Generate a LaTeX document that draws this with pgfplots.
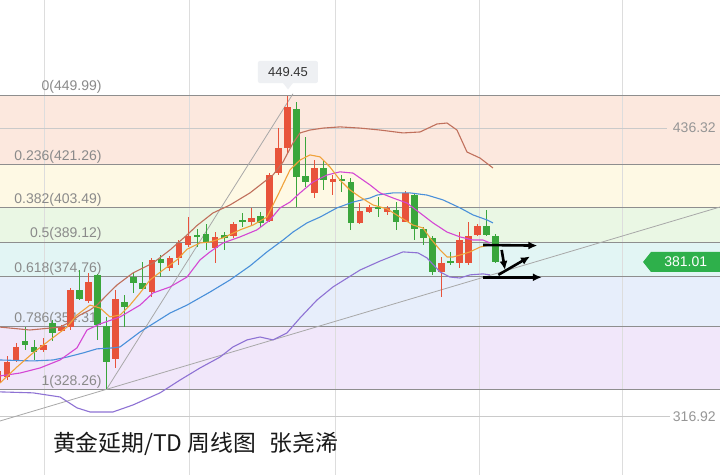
\documentclass[border=0pt]{standalone}
\usepackage{fontspec}
\setmainfont{Liberation Sans}
\newfontfamily\cjk{Noto Sans CJK SC}
\usepackage{pgfplots}
\usepackage{pgfplotstable}
\usetikzlibrary{arrows.meta}
\pgfplotsset{compat=1.18}

\definecolor{bPeach}{HTML}{FCE8DE}
\definecolor{bYellow}{HTML}{FEF9E4}
\definecolor{bGreen}{HTML}{EAF7E4}
\definecolor{bCyan}{HTML}{E2F5F4}
\definecolor{bBlue}{HTML}{E7EEFB}
\definecolor{bLav}{HTML}{F1E7FA}
\definecolor{fibGray}{HTML}{8E8E8E}
\definecolor{labGray}{HTML}{8A8A8A}
\definecolor{gridGray}{HTML}{DDDDDD}
\definecolor{cRed}{HTML}{E8533B}
\definecolor{cGreen}{HTML}{3AA63C}
\definecolor{maBrown}{HTML}{C0705C}
\definecolor{maOrange}{HTML}{F0A23A}
\definecolor{maMag}{HTML}{D447D4}
\definecolor{maBlue}{HTML}{4A90DA}
\definecolor{maPurp}{HTML}{8E72D4}
\definecolor{trendGray}{HTML}{A8A8A8}
\definecolor{tagGreen}{HTML}{2EB04B}
\definecolor{boxGray}{HTML}{EEF0F3}

\pgfplotstableread{
i o h l c
-1 331.0 338.0 329.0 336.0
0 333.5 342.0 332.1 339.7
1 340.4 347.5 339.5 345.9
4 344.5 349.5 343.7 346.6
6 352.5 354.9 352.0 354.0
7 354.0 370.0 352.8 369.3
9 364.9 376.4 364.0 372.8
12 340.7 369.3 337.1 365.5
16 368.6 382.6 366.6 381.7
18 378.3 383.4 377.3 382.6
19 382.7 390.0 379.7 388.9
20 388.0 399.7 387.2 391.7
23 386.6 393.5 380.4 391.4
25 391.7 397.6 391.0 396.6
27 397.6 403.3 396.2 399.2
29 397.9 417.6 397.5 416.9
30 417.9 436.2 416.9 428.0
31 428.0 449.45 425.9 445.1
34 409.3 423.1 407.3 419.7
36 414.1 416.9 408.6 415.2
39 396.9 405.3 396.5 402.1
40 401.7 404.7 401.0 403.5
42 401.7 404.0 400.5 403.3
44 397.6 410.3 397.3 409.6
48 376.9 383.1 366.6 380.6
50 380.4 393.5 378.3 390.0
51 380.4 397.6 379.5 391.7
52 392.1 396.5 391.5 395.8
}\upT

\pgfplotstableread{
i o h l c
2 348.4 354.2 344.5 346.6
3 345.9 348.7 340.4 343.8
5 355.8 356.9 348.4 351.4
8 369.3 377.6 365.2 365.5
10 375.5 376.0 348.7 354.9
11 354.5 358.3 328.26 339.7
13 364.5 367.3 354.2 362.2
14 374.8 376.4 368.1 372.4
15 372.4 381.0 369.3 369.6
17 382.0 383.8 374.8 380.4
21 392.1 394.6 387.2 391.4
22 392.4 396.6 385.9 389.3
24 392.1 393.5 385.9 390.7
26 398.0 401.2 395.5 397.5
28 399.9 401.7 395.5 397.2
32 444.1 447.2 403.8 415.9
33 416.5 432.7 412.1 414.1
35 419.7 423.1 410.7 414.8
37 415.2 416.9 410.0 414.5
38 414.1 415.7 394.2 396.9
41 403.5 407.7 399.4 402.7
43 402.4 405.9 394.2 397.5
45 408.6 409.0 390.0 394.5
46 394.5 395.5 388.0 390.7
47 390.7 391.5 375.5 376.9
49 381.3 385.2 379.7 380.8
53 395.8 402.4 391.5 392.1
54 391.7 392.5 380.5 381.01
}\downT

\newcommand{\numfont}{\fontsize{14bp}{16bp}\selectfont}
\newcommand{\smallnum}{\fontsize{13bp}{15bp}\selectfont}

\begin{document}
\begin{tikzpicture}
\begin{axis}[
  width=720bp, height=475bp, scale only axis,
  xmin=-0.7735, xmax=78.785, ymin=292.83, ymax=489.28,
  hide axis, clip=true,
  candle/.style={only marks, mark options={draw=none, fill=none, opacity=0}, mark size=0pt},
]
% background
\fill[white] (axis cs:-0.7735,292.83) rectangle (axis cs:78.785,489.28);
\fill[bPeach] (axis cs:-0.7735,421.26) rectangle (axis cs:78.785,449.99);
\fill[bYellow] (axis cs:-0.7735,403.49) rectangle (axis cs:78.785,421.26);
\fill[bGreen] (axis cs:-0.7735,389.12) rectangle (axis cs:78.785,403.49);
\fill[bCyan] (axis cs:-0.7735,374.76) rectangle (axis cs:78.785,389.12);
\fill[bBlue] (axis cs:-0.7735,354.31) rectangle (axis cs:78.785,374.76);
\fill[bLav] (axis cs:-0.7735,328.26) rectangle (axis cs:78.785,354.31);
% vertical grid
\draw[gridGray, line width=0.8bp] (axis cs:4.09,292.83) -- (axis cs:4.09,489.28);
\draw[gridGray, line width=0.8bp] (axis cs:20.11,292.83) -- (axis cs:20.11,489.28);
\draw[gridGray, line width=0.8bp] (axis cs:36.24,292.83) -- (axis cs:36.24,489.28);
\draw[gridGray, line width=0.8bp] (axis cs:52.15,292.83) -- (axis cs:52.15,489.28);
\draw[gridGray, line width=0.8bp] (axis cs:67.96,292.83) -- (axis cs:67.96,489.28);
% horizontal grid
\draw[gridGray!80!gray, line width=0.8bp] (axis cs:-0.7735,436.32) -- (axis cs:72.93,436.32);
\draw[gridGray!80!gray, line width=0.8bp] (axis cs:-0.7735,316.92) -- (axis cs:73.26,316.92);
% fib lines
\draw[fibGray, line width=0.9bp] (axis cs:-0.7735,449.99) -- (axis cs:78.785,449.99);
\draw[fibGray, line width=0.9bp] (axis cs:-0.7735,421.26) -- (axis cs:78.785,421.26);
\draw[fibGray, line width=0.9bp] (axis cs:-0.7735,403.49) -- (axis cs:78.785,403.49);
\draw[fibGray, line width=0.9bp] (axis cs:-0.7735,389.12) -- (axis cs:78.785,389.12);
\draw[fibGray, line width=0.9bp] (axis cs:-0.7735,374.76) -- (axis cs:78.785,374.76);
\draw[fibGray, line width=0.9bp] (axis cs:-0.7735,354.31) -- (axis cs:78.785,354.31);
\draw[fibGray, line width=0.9bp] (axis cs:-0.7735,328.26) -- (axis cs:78.785,328.26);
% fib labels
\node[anchor=south east, inner sep=1.2bp, text=labGray, font=\numfont] at (axis cs:10.61,449.99) {0(449.99)};
\node[anchor=south east, inner sep=1.2bp, text=labGray, font=\numfont] at (axis cs:10.61,421.26) {0.236(421.26)};
\node[anchor=south east, inner sep=1.2bp, text=labGray, font=\numfont] at (axis cs:10.61,403.49) {0.382(403.49)};
\node[anchor=south east, inner sep=1.2bp, text=labGray, font=\numfont] at (axis cs:10.61,389.12) {0.5(389.12)};
\node[anchor=south east, inner sep=1.2bp, text=labGray, font=\numfont] at (axis cs:10.61,374.76) {0.618(374.76)};
\node[anchor=south east, inner sep=1.2bp, text=labGray, font=\numfont] at (axis cs:10.61,354.31) {0.786(354.31)};
\node[anchor=south east, inner sep=1.2bp, text=labGray, font=\numfont] at (axis cs:10.61,328.26) {1(328.26)};
\node[anchor=east, inner sep=0pt, text=labGray!90!white, font=\numfont] at (axis cs:78.34,436.34) {436.32};
\node[anchor=east, inner sep=0pt, text=labGray!90!white, font=\numfont] at (axis cs:78.34,316.83) {316.92};
% trend lines
\addplot[trendGray, line width=0.8bp] coordinates {(-0.7735,315.17) (78.785,403.67)};
\addplot[trendGray, line width=0.8bp] coordinates {(11,328.26) (31.6,450.5)};
% candles: wicks
\addplot[candle, error bars/.cd, y dir=both, y explicit, error mark=none,
  error bar style={draw=cRed, line width=1bp}]
  table[x=i, y expr={(\thisrow{o}+\thisrow{c})/2},
        y error plus expr={\thisrow{h}-(\thisrow{o}+\thisrow{c})/2},
        y error minus expr={(\thisrow{o}+\thisrow{c})/2-\thisrow{l}}] {\upT};
\addplot[candle, error bars/.cd, y dir=both, y explicit, error mark=none,
  error bar style={draw=cGreen, line width=1bp}]
  table[x=i, y expr={(\thisrow{o}+\thisrow{c})/2},
        y error plus expr={\thisrow{h}-(\thisrow{o}+\thisrow{c})/2},
        y error minus expr={(\thisrow{o}+\thisrow{c})/2-\thisrow{l}}] {\downT};
% candles: bodies
\addplot[candle, error bars/.cd, y dir=both, y explicit, error mark=none,
  error bar style={draw=cRed, line width=6.6bp}]
  table[x=i, y expr={(\thisrow{o}+\thisrow{c})/2},
        y error expr={max(abs(\thisrow{c}-\thisrow{o})/2,0.35)}] {\upT};
\addplot[candle, error bars/.cd, y dir=both, y explicit, error mark=none,
  error bar style={draw=cGreen, line width=6.6bp}]
  table[x=i, y expr={(\thisrow{o}+\thisrow{c})/2},
        y error expr={max(abs(\thisrow{c}-\thisrow{o})/2,0.35)}] {\downT};
% moving averages / bands
\addplot[maBrown, line width=1.1bp, line join=round] coordinates {
(-0.77,354.0) (2.54,352.8) (5.86,354.0) (6.96,356.1) (8.07,359.0) (9.17,361.1) (9.94,363.1)
(11.05,367.3) (12.15,371.4) (13.92,376.4) (16.13,380.5) (18.01,385.9) (19.89,392.1) (20.99,396.0)
(22.76,401.2) (24.64,404.5) (26.85,409.5) (29.39,416.9) (30.50,422.3) (31.60,430.1) (32.38,434.3)
(33.48,435.5) (34.92,436.3) (36.80,436.8) (39.01,436.3) (41.22,435.5) (43.76,434.3) (45.64,434.7)
(47.51,438.0) (48.62,438.4) (49.72,435.5) (50.83,426.4) (52.27,423.9) (53.70,419.8)};
\addplot[maBlue, line width=1.1bp, line join=round] coordinates {
(-0.77,340.4) (2.87,340.0) (5.08,340.4) (6.63,341.6) (8.40,343.3) (9.94,345.0) (11.71,345.4)
(12.49,345.8) (14.70,352.0) (18.01,359.8) (19.89,363.1) (22.43,368.5) (24.64,373.5) (26.85,379.3)
(28.73,385.1) (30.50,390.0) (31.60,393.3) (33.15,397.1) (34.59,399.5) (36.46,403.3) (38.23,405.7)
(40.11,407.4) (40.88,408.6) (42.65,409.5) (44.53,409.5) (46.41,408.6) (48.18,406.6) (50.06,403.3)
(51.49,400.4) (53.04,398.3) (53.70,397.1)};
\addplot[maPurp, line width=1.1bp, line join=round] coordinates {
(-0.77,327.2) (2.87,326.8) (5.86,325.1) (7.73,320.6) (9.17,318.9) (11.71,318.9) (13.92,321.8)
(16.91,326.8) (19.12,332.1) (21.33,337.1) (23.54,341.6) (24.97,345.8) (26.52,348.7) (27.96,349.9)
(29.39,348.7) (30.94,351.6) (32.38,357.8) (34.25,365.2) (36.02,370.6) (39.01,377.6) (41.22,381.3)
(43.76,385.1) (45.41,384.7) (46.41,382.6) (47.85,376.8) (48.95,374.7) (50.06,374.3) (51.16,375.6)
(52.60,376.0) (53.37,375.6)};
\addplot[maMag, line width=1.1bp, line join=round] coordinates {
(-0.77,333.8) (1.44,335.0) (3.65,337.1) (5.86,340.4) (7.73,345.4) (8.84,352.8) (10.28,355.3)
(12.49,358.2) (14.70,363.1) (16.13,368.1) (18.01,370.6) (19.89,374.7) (21.33,381.8) (22.43,385.1)
(23.87,388.8) (25.75,391.3) (27.62,394.2) (29.06,398.3) (30.17,403.3) (31.27,405.7) (32.38,409.5)
(33.81,414.0) (35.36,416.9) (36.80,418.2) (38.23,417.7) (39.34,414.8) (40.11,412.8) (41.22,409.5)
(42.65,407.4) (44.20,405.3) (45.64,401.2) (47.07,397.1) (48.62,393.3) (50.06,391.3) (51.49,390.0)
(52.60,390.0) (53.37,388.8)};
\addplot[maOrange, line width=1.1bp, line join=round] coordinates {
(-0.77,330.9) (1.10,337.5) (2.87,343.3) (4.75,348.7) (6.63,354.0) (7.73,359.0) (9.17,363.1)
(10.28,361.9) (11.38,358.2) (12.49,359.0) (13.59,363.1) (14.70,368.1) (15.80,373.5) (17.24,377.6)
(18.78,381.8) (19.89,386.2) (21.33,388.8) (22.43,389.2) (23.87,390.9) (25.75,394.2) (27.18,396.2)
(28.73,399.5) (29.83,407.8) (31.27,419.0) (32.38,423.1) (33.48,425.2) (34.59,424.4) (35.69,420.2)
(36.80,414.8) (37.90,410.7) (39.01,407.8) (40.44,404.5) (41.99,402.9) (43.43,399.5) (44.86,396.2)
(45.97,395.0) (46.74,390.9) (47.85,385.9) (48.62,383.0) (49.28,383.0) (50.06,383.8) (51.16,385.1)
(52.27,387.1) (53.37,388.0)};
% arrows
\draw[line width=2.6bp, black, -{Latex[length=9bp,width=8bp]}] (axis cs:52.6,387.96) -- (axis cs:58.6,387.7);
\draw[line width=2.6bp, black, -{Latex[length=9bp,width=8bp]}] (axis cs:54.66,385.9) -- (axis cs:55.03,377.6);
\draw[line width=2.6bp, black, -{Latex[length=9bp,width=8bp]}] (axis cs:54.29,375.6) -- (axis cs:57.79,383.2);
\draw[line width=2.6bp, black, -{Latex[length=9bp,width=8bp]}] (axis cs:52.6,374.6) -- (axis cs:59.1,374.6);
% price tag
\fill[tagGreen] (axis cs:70.28,380.93) -- (axis cs:71.16,385.06) -- (axis cs:78.785,385.06)
  -- (axis cs:78.785,376.79) -- (axis cs:71.16,376.79) -- cycle;
\node[text=white, font=\numfont, inner sep=0pt] at (axis cs:75.0,380.93) {381.01};
% high callout
\fill[boxGray, rounded corners=2bp] (axis cs:27.73,454.95) rectangle (axis cs:34.36,464.05);
\fill[boxGray] (axis cs:30.5,455.0) -- (axis cs:31.6,455.0) -- (axis cs:31.05,452.3) -- cycle;
\node[text=black!80, font=\smallnum, inner sep=0pt] at (axis cs:31.05,459.5) {449.45};
% title
\node[anchor=west, inner sep=0pt, text=black!90, font={\cjk\fontsize{22.8bp}{25bp}\selectfont}] at (axis cs:5.08,305.6) {黄金延期/TD 周线图\hspace{0.6em}张尧浠};
\end{axis}
\end{tikzpicture}
\end{document}
